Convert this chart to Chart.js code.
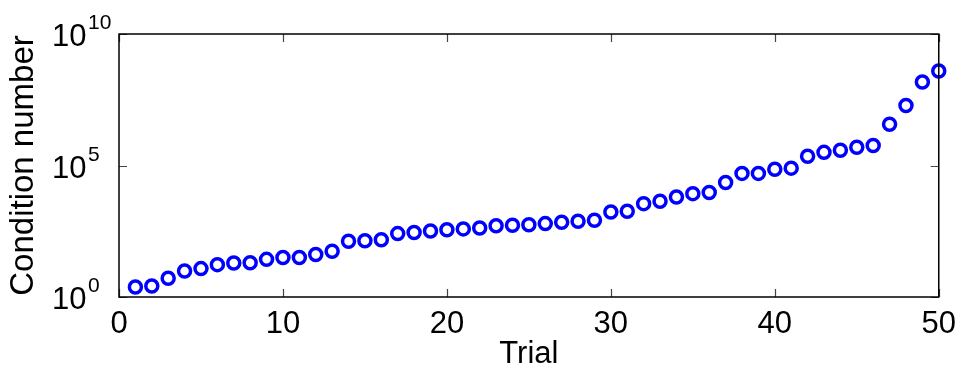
<!DOCTYPE html>
<html>
<head>
<meta charset="utf-8">
<script src="https://cdn.jsdelivr.net/npm/chart.js@4/dist/chart.umd.min.js"></script>
<style>
  html, body { margin: 0; padding: 0; background: #fff; }
  #wrap { width: 965px; height: 370px; }
</style>
</head>
<body>
<div id="wrap"><canvas id="cond_chart" width="965" height="370"></canvas></div>
<script>
// trial numbers and the condition number
const trials = [
  1, 2, 3, 4, 5, 6, 7, 8, 9, 10,
  11, 12, 13, 14, 15, 16, 17, 18, 19, 20,
  21, 22, 23, 24, 25, 26, 27, 28, 29, 30,
  31, 32, 33, 34, 35, 36, 37, 38, 39, 40,
  41, 42, 43, 44, 45, 46, 47, 48, 49, 50
];
const conditionNumbers = [
  2.4, 2.6, 5.2, 9.8, 12, 17, 19.5, 20, 27, 32,
  32, 41, 55, 132, 138, 151, 257, 282, 324, 363,
  389, 417, 513, 537, 562, 617, 692, 759, 832, 1700,
  1820, 3550, 4370, 6310, 8510, 9330, 22400, 50100, 50100, 72400,
  79400, 224000, 316000, 380000, 490000, 575000, 3.7e6, 1.9e7, 1.5e8, 3.9e8
];
const xTicks = [0, 10, 20, 30, 40, 50];
const yTicks = [1, 1e5, 1e10];

const points = trials.map((t, i) => ({ x: t, y: conditionNumbers[i] }));

const FONT = '"Liberation Sans", Arial, sans-serif';

// box around the plot, inward tick marks and 10^n labels
const matlabFrame = {
  id: 'matlabFrame',
  afterDraw(chart) {
    const { ctx, chartArea: area, scales } = chart;
    const xs = scales.x;
    const ys = scales.y;
    ctx.save();

    // inward ticks
    ctx.strokeStyle = '#444';
    ctx.lineWidth = 1.2;
    ctx.beginPath();
    xTicks.forEach(v => {
      const px = Math.round(xs.getPixelForValue(v)) + 0.5;
      ctx.moveTo(px, area.bottom);
      ctx.lineTo(px, area.bottom - 8);
      ctx.moveTo(px, area.top);
      ctx.lineTo(px, area.top + 8);
    });
    yTicks.forEach(v => {
      const py = Math.round(ys.getPixelForValue(v)) + 0.5;
      ctx.moveTo(area.left, py);
      ctx.lineTo(area.left + 8, py);
      ctx.moveTo(area.right, py);
      ctx.lineTo(area.right - 8, py);
    });
    ctx.stroke();

    // frame
    ctx.strokeStyle = '#000';
    ctx.lineWidth = 1.5;
    ctx.strokeRect(area.left, area.top, area.right - area.left, area.bottom - area.top);

    // y tick labels with exponent
    ctx.fillStyle = '#000';
    ctx.textAlign = 'left';
    ctx.textBaseline = 'alphabetic';
    yTicks.forEach(v => {
      const py = ys.getPixelForValue(v);
      const exp = Math.round(Math.log10(v));
      ctx.font = '31px ' + FONT;
      ctx.fillText('10', 52, py + 12);
      ctx.font = '21px ' + FONT;
      ctx.fillText(String(exp), 88, py - 5);
    });

    ctx.restore();
  }
};

const ctx = document.getElementById('cond_chart').getContext('2d');
new Chart(ctx, {
  type: 'scatter',
  data: {
    datasets: [{
      label: 'Condition number',
      data: points,
      pointStyle: 'circle',
      pointRadius: 6,
      pointBorderWidth: 3.5,
      pointBorderColor: '#0000ff',
      pointBackgroundColor: 'rgba(255,255,255,0)',
      clip: false,
    }]
  },
  options: {
    responsive: false,
    animation: false,
    devicePixelRatio: 1,
    layout: { padding: { top: 34, right: 21, left: 0, bottom: 0 } },
    plugins: {
      legend: { display: false },
      tooltip: { enabled: false },
    },
    scales: {
      x: {
        type: 'linear',
        min: 0,
        max: 50,
        afterBuildTicks(scale) {
          scale.ticks = xTicks.map(v => ({ value: v }));
        },
        afterFit(scale) {
          scale.height = 73;
        },
        ticks: {
          color: '#000',
          padding: 9,
          maxRotation: 0,
          font: { family: FONT, size: 31 },
        },
        grid: { display: false, drawTicks: false },
        border: { display: false },
        title: {
          display: true,
          text: 'Trial',
          color: '#000',
          padding: { top: 0, bottom: 0 },
          font: { family: FONT, size: 31, lineHeight: 1 },
        },
      },
      y: {
        type: 'logarithmic',
        min: 1,
        max: 1e10,
        afterFit(scale) {
          scale.width = 119;
        },
        ticks: { display: false },
        grid: { display: false, drawTicks: false },
        border: { display: false },
        title: {
          display: true,
          text: 'Condition number',
          color: '#000',
          padding: { top: 7, bottom: 0 },
          font: { family: FONT, size: 33, lineHeight: 1 },
        },
      },
    },
  },
  plugins: [matlabFrame],
});
</script>
</body>
</html>
